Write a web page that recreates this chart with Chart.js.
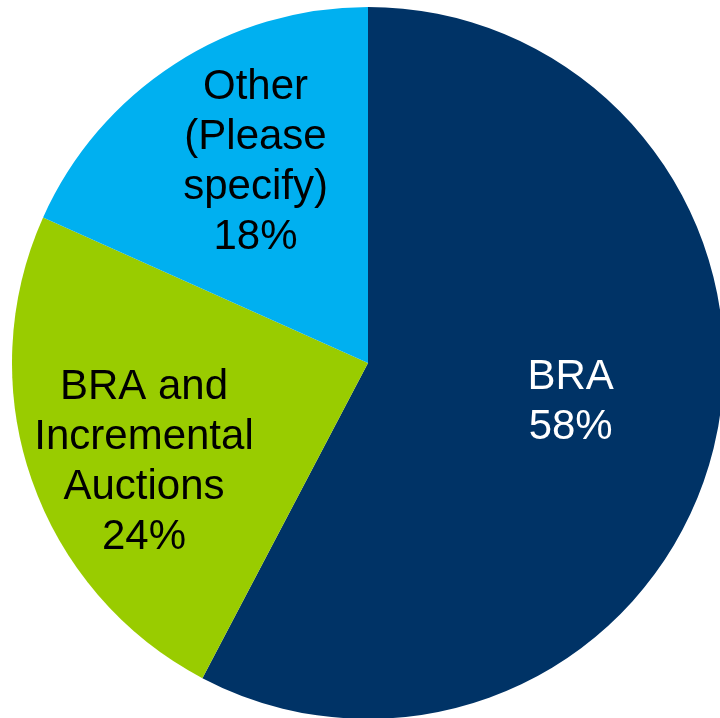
<!DOCTYPE html>
<html>
<head>
<meta charset="utf-8">
<script src="https://cdn.jsdelivr.net/npm/chart.js@4"></script>
<style>
  html, body { margin: 0; padding: 0; background: #fff; overflow: hidden; }
  #wrap { width: 736px; height: 726px; }
</style>
</head>
<body>
<div id="wrap"><canvas id="pieChart" width="736" height="726"></canvas></div>
<script>
// Survey answers and their shares (%)
const categories = ['BRA', 'BRA and Incremental Auctions', 'Other (Please specify)'];
const shares = [57.7, 24.0, 18.3];
const nameLines = [
    ['BRA'],
    ['BRA and', 'Incremental', 'Auctions'],
    ['Other', '(Please', 'specify)']
];
const sliceColors = ['#003366', '#99CC00', '#00B0F0'];
const textColors = ['#ffffff', '#000000', '#000000'];

// label placement: fraction of radius, angle shift in degrees
const labelPlace = [
    { frac: 0.578, shift: -3.9 },
    { frac: 0.685, shift: -4.2 },
    { frac: 0.655, shift: 4.1 }
];

const sliceLabels = {
    id: 'sliceLabels',
    afterDatasetsDraw(chart) {
        const ctx = chart.ctx;
        const arcs = chart.getDatasetMeta(0).data;
        const fontSize = 42;
        const lineH = 50;
        const capH = fontSize * 0.716;
        ctx.save();
        ctx.font = fontSize + 'px Arial, "Liberation Sans", sans-serif';
        ctx.textAlign = 'center';
        ctx.textBaseline = 'alphabetic';
        arcs.forEach((arc, i) => {
            const p = arc.getProps(['x', 'y', 'startAngle', 'endAngle', 'outerRadius']);
            const mid = (p.startAngle + p.endAngle) / 2 + labelPlace[i].shift * Math.PI / 180;
            const r = p.outerRadius * labelPlace[i].frac;
            const cx = p.x + Math.cos(mid) * r;
            const cy = p.y + Math.sin(mid) * r;
            const lines = nameLines[i].concat([Math.round(shares[i]) + '%']);
            ctx.fillStyle = textColors[i];
            lines.forEach((t, k) => {
                ctx.fillText(t, cx, cy + (k - (lines.length - 1) / 2) * lineH + capH / 2);
            });
        });
        ctx.restore();
    }
};

new Chart(document.getElementById('pieChart').getContext('2d'), {
    type: 'pie',
    data: {
        labels: categories,
        datasets: [{
            data: shares,
            backgroundColor: sliceColors,
            borderWidth: 0,
            radius: 356
        }]
    },
    options: {
        responsive: false,
        animation: false,
        layout: { padding: 0 },
        plugins: {
            legend: { display: false },
            tooltip: { enabled: false }
        }
    },
    plugins: [sliceLabels]
});
</script>
</body>
</html>
